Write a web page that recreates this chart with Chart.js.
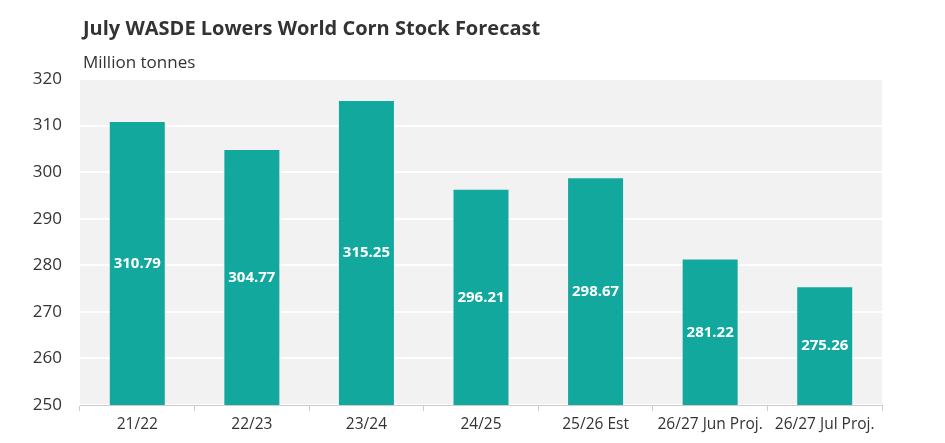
<!DOCTYPE html>
<html>
<head>
<meta charset="utf-8">
<script src="https://cdn.jsdelivr.net/npm/chart.js@4"></script>
<style>
  body { margin: 0; background: #fff; font-family: "Open Sans", sans-serif; }
  #wrap { position: relative; width: 945px; height: 443px; }
  #title { position: absolute; left: 83px; top: 14px; font-size: 20px; font-weight: bold; color: #333; }
  #sub { position: absolute; left: 83px; top: 50px; font-size: 17px; color: #333; }
  canvas { position: absolute; left: 0; top: 0; }
</style>
</head>
<body>
<div id="wrap">
  <canvas id="c" width="945" height="443"></canvas>
  <div id="title">July WASDE Lowers World Corn Stock Forecast</div>
  <div id="sub">Million tonnes</div>
</div>
<script>
const categories = ['21/22', '22/23', '23/24', '24/25', '25/26 Est', '26/27 Jun Proj.', '26/27 Jul Proj.'];
const stocks = [310.79, 304.77, 315.25, 296.21, 298.67, 281.22, 275.26];
const yTicks = [250, 260, 270, 280, 290, 300, 310, 320];

const bgPlugin = {
  id: 'bg',
  beforeDraw(chart) {
    const a = chart.chartArea, ctx = chart.ctx;
    ctx.save();
    ctx.fillStyle = '#f2f2f2';
    ctx.fillRect(a.left, a.top, a.right - a.left, a.bottom - a.top);
    ctx.restore();
  }
};

const barLabels = {
  id: 'barLabels',
  afterDraw(chart) {
    const ctx = chart.ctx, x = chart.scales.x, y = chart.scales.y;
    const base = y.getPixelForValue(250);
    ctx.save();
    ctx.fillStyle = '#ffffff';
    ctx.font = 'bold 15px "Open Sans"';
    ctx.textAlign = 'center';
    ctx.textBaseline = 'middle';
    stocks.forEach((v, i) => {
      ctx.fillText(v.toFixed(2), x.getPixelForValue(i), (y.getPixelForValue(v) + base) / 2);
    });
    ctx.restore();
  }
};

new Chart(document.getElementById('c'), {
  type: 'bar',
  data: {
    labels: categories,
    datasets: [{ data: stocks, backgroundColor: '#13a89e', categoryPercentage: 1, barPercentage: 0.48 }]
  },
  options: {
    responsive: false,
    animation: false,
    layout: { padding: { left: 0, right: 63, top: 79, bottom: 0 } },
    plugins: { legend: { display: false }, tooltip: { enabled: false } },
    scales: {
      x: {
        grid: { drawOnChartArea: false, color: '#ccc', tickLength: 6, offset: true },
        border: { color: '#ccc' },
        ticks: { color: '#333', font: { size: 15.5, family: 'Open Sans' }, padding: 4, maxRotation: 0 },
        afterFit: s => { s.height = 38; }
      },
      y: {
        min: 250, max: 320,
        afterBuildTicks: s => { s.ticks = yTicks.map(v => ({ value: v })); },
        grid: { color: '#fff', lineWidth: 2, drawTicks: false },
        border: { display: false },
        ticks: { color: '#333', font: { size: 17, family: 'Open Sans' }, padding: 18 },
        afterFit: s => { s.width = 80; }
      }
    }
  },
  plugins: [bgPlugin, barLabels]
});
</script>
</body>
</html>
